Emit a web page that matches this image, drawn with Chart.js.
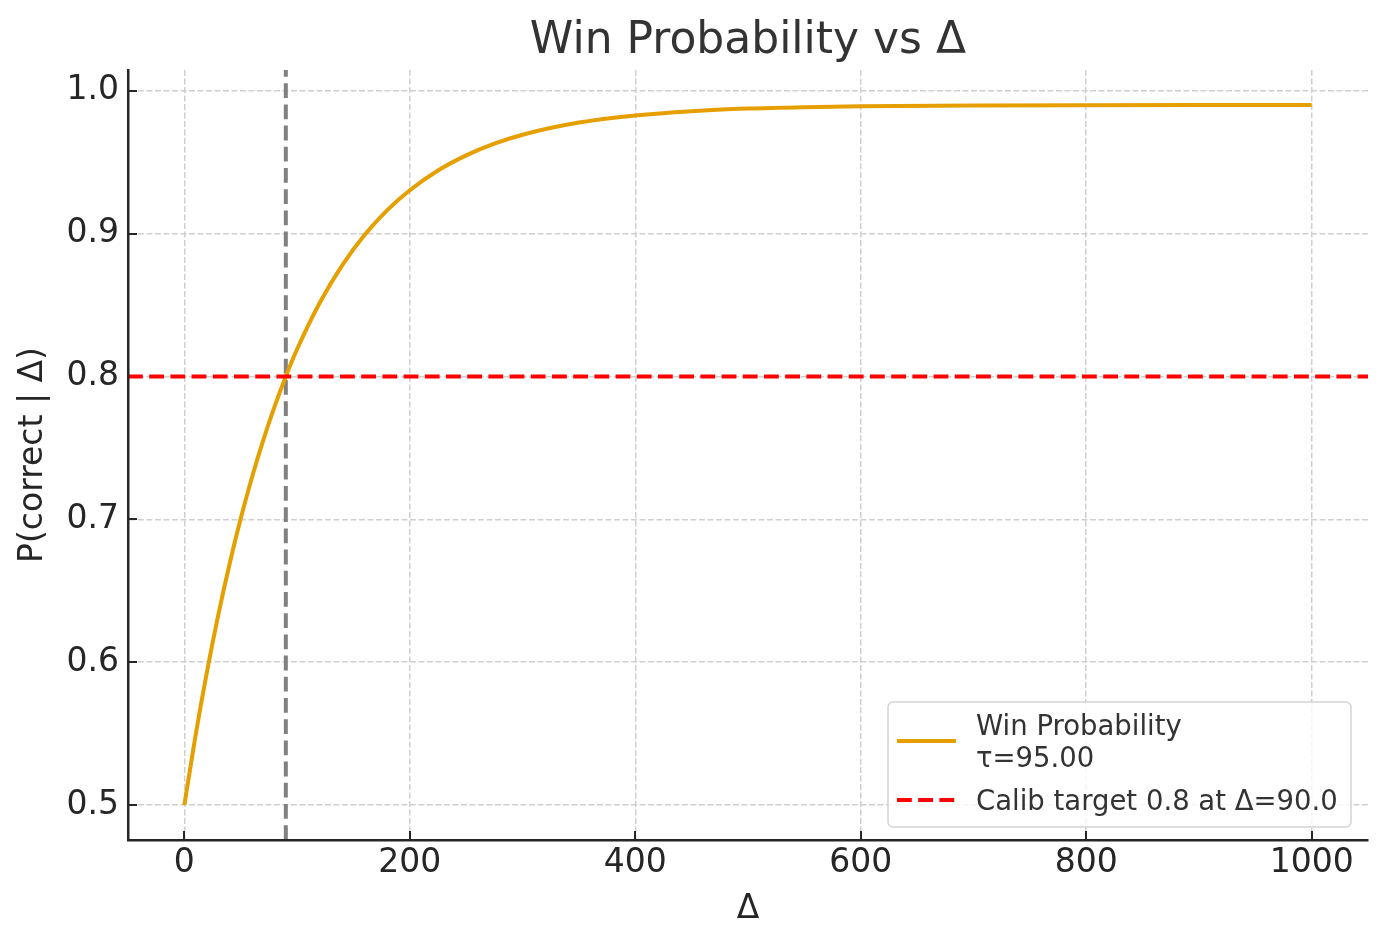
<!DOCTYPE html>
<html>
<head>
<meta charset="utf-8">
<title>Win Probability vs Δ</title>
<script src="https://cdn.jsdelivr.net/npm/chart.js@4.4.1/dist/chart.umd.min.js"></script>
<style>
  html, body { margin: 0; padding: 0; background: #ffffff; }
  #wrap { width: 1388px; height: 947px; }
</style>
</head>
<body>
<div id="wrap"><canvas id="winChart" width="1388" height="947"></canvas></div>
<script>
// ------------------------------------------------------------
// Data
// ------------------------------------------------------------
const DELTA = [0, 10, 20, 30, 40, 50, 60, 70, 80, 90, 100, 120, 140, 160, 180, 200,
  225, 250, 275, 300, 350, 400, 450, 500, 550, 600, 700, 800, 900, 1000];
const WIN_PROB = [0.5000, 0.5490, 0.5930, 0.6327, 0.6684, 0.7005, 0.7294, 0.7554, 0.7789,
  0.8000, 0.8190, 0.8514, 0.8777, 0.8991, 0.9164, 0.9303, 0.9441, 0.9547, 0.9629, 0.9692,
  0.9777, 0.9827, 0.9857, 0.9875, 0.9885, 0.9891, 0.9897, 0.9899, 0.9900, 0.9900];

const CALIB_DELTA = 90;
const CALIB_TARGET = 0.8;

const X_RANGE = [-50, 1050];
const Y_RANGE = [0.4755, 1.0145];
const X_TICKS = [0, 200, 400, 600, 800, 1000];
const Y_TICKS = [0.5, 0.6, 0.7, 0.8, 0.9, 1.0];

const LEGEND_ITEMS = [
  { lines: ["Win Probability", "τ=95.00"], color: "#E69F00", dash: [] },
  { lines: ["Calib target 0.8 at Δ=90.0"], color: "#FF0000", dash: [14.8, 6.4] },
];

const FONT = "'DejaVu Sans', 'Liberation Sans', sans-serif";
const INK = "#262626";

// ------------------------------------------------------------
// Plugins: inward tick marks + matplotlib-like legend box
// ------------------------------------------------------------
const inwardTicks = {
  id: "inwardTicks",
  beforeDatasetsDraw(chart) {
    const { ctx, chartArea, scales } = chart;
    ctx.save();
    ctx.strokeStyle = INK;
    ctx.lineWidth = 2;
    ctx.beginPath();
    scales.x.ticks.forEach((t) => {
      const px = Math.round(scales.x.getPixelForValue(t.value));
      ctx.moveTo(px, chartArea.bottom);
      ctx.lineTo(px, chartArea.bottom - 9);
    });
    scales.y.ticks.forEach((t) => {
      const py = Math.round(scales.y.getPixelForValue(t.value));
      ctx.moveTo(chartArea.left, py);
      ctx.lineTo(chartArea.left + 9, py);
    });
    ctx.stroke();
    ctx.restore();
  },
};

const boxLegend = {
  id: "boxLegend",
  afterDatasetsDraw(chart) {
    const { ctx, chartArea } = chart;
    const w = 463, h = 125;
    const x0 = chartArea.right - 17 - w;
    const y0 = chartArea.bottom - 13 - h;

    ctx.save();
    ctx.beginPath();
    ctx.roundRect(x0, y0, w, h, 5);
    ctx.fillStyle = "rgba(255,255,255,0.8)";
    ctx.fill();
    ctx.lineWidth = 1.5;
    ctx.strokeStyle = "#d4d4d4";
    ctx.stroke();

    ctx.font = "27.5px " + FONT;
    ctx.fillStyle = "#333333";
    ctx.textBaseline = "alphabetic";
    ctx.textAlign = "left";

    // first entry has two text lines, its handle sits between them
    let base = y0 + 33;
    LEGEND_ITEMS.forEach((item) => {
      const n = item.lines.length;
      const midY = base - 10 + (n - 1) * 16;
      ctx.beginPath();
      ctx.setLineDash(item.dash);
      ctx.lineWidth = 4;
      ctx.strokeStyle = item.color;
      ctx.moveTo(x0 + 9, midY);
      ctx.lineTo(x0 + 68, midY);
      ctx.stroke();
      ctx.setLineDash([]);
      item.lines.forEach((line, i) => {
        ctx.fillText(line, x0 + 88, base + i * 32);
      });
      base += n * 32 + 11;
    });
    ctx.restore();
  },
};

// ------------------------------------------------------------
// Chart
// ------------------------------------------------------------
const ctx = document.getElementById("winChart").getContext("2d");

new Chart(ctx, {
  type: "line",
  data: {
    datasets: [
      {
        label: "Calib target",
        data: [
          { x: X_RANGE[0], y: CALIB_TARGET },
          { x: X_RANGE[1], y: CALIB_TARGET },
        ],
        borderColor: "#FF0000",
        borderWidth: 4,
        borderDash: [14.8, 6.4],
        pointRadius: 0,
        order: 0,
      },
      {
        label: "Win Probability",
        data: DELTA.map((d, i) => ({ x: d, y: WIN_PROB[i] })),
        borderColor: "#E69F00",
        borderWidth: 4,
        pointRadius: 0,
        cubicInterpolationMode: "monotone",
        order: 1,
      },
      {
        label: "Calib delta",
        data: [
          { x: CALIB_DELTA, y: Y_RANGE[0] },
          { x: CALIB_DELTA, y: Y_RANGE[1] },
        ],
        borderColor: "#808080",
        borderWidth: 4,
        borderDash: [14.8, 6.4],
        pointRadius: 0,
        order: 2,
      },
    ],
  },
  options: {
    responsive: false,
    devicePixelRatio: 1,
    animation: false,
    layout: { padding: { left: 0, right: 20, top: 0, bottom: 0 } },
    scales: {
      x: {
        type: "linear",
        min: X_RANGE[0],
        max: X_RANGE[1],
        afterBuildTicks: (axis) => { axis.ticks = X_TICKS.map((v) => ({ value: v })); },
        afterFit: (axis) => { axis.height = 107; },
        ticks: {
          color: INK,
          font: { family: FONT, size: 33 },
          padding: 4,
          maxRotation: 0,
          callback: (v) => String(v),
        },
        grid: { color: "#cfcfcf", lineWidth: 1.5, drawTicks: false },
        border: { display: true, color: INK, width: 2.5, dash: [5.9, 2.6], z: 1 },
        title: {
          display: true,
          text: "Δ",
          color: INK,
          font: { family: FONT, size: 33 },
          padding: { top: 0, bottom: 18 },
        },
      },
      y: {
        type: "linear",
        min: Y_RANGE[0],
        max: Y_RANGE[1],
        afterBuildTicks: (axis) => { axis.ticks = Y_TICKS.map((v) => ({ value: v })); },
        afterFit: (axis) => { axis.width = 128; },
        ticks: {
          color: INK,
          font: { family: FONT, size: 33 },
          padding: 9,
          callback: (v) => v.toFixed(1),
        },
        grid: { color: "#cfcfcf", lineWidth: 1.5, drawTicks: false },
        border: { display: true, color: INK, width: 2.5, dash: [5.9, 2.6], z: 1 },
        title: {
          display: true,
          text: "P(correct | Δ)",
          color: INK,
          font: { family: FONT, size: 33 },
          padding: { top: 13.8, bottom: 0 },
        },
      },
    },
    plugins: {
      legend: { display: false },
      tooltip: { enabled: false },
      title: {
        display: true,
        fullSize: false,
        text: "Win Probability vs Δ",
        color: "#333333",
        font: { family: FONT, size: 44, weight: "normal" },
        padding: { top: 15, bottom: 2.2 },
      },
    },
  },
  plugins: [inwardTicks, boxLegend],
});
</script>
</body>
</html>
